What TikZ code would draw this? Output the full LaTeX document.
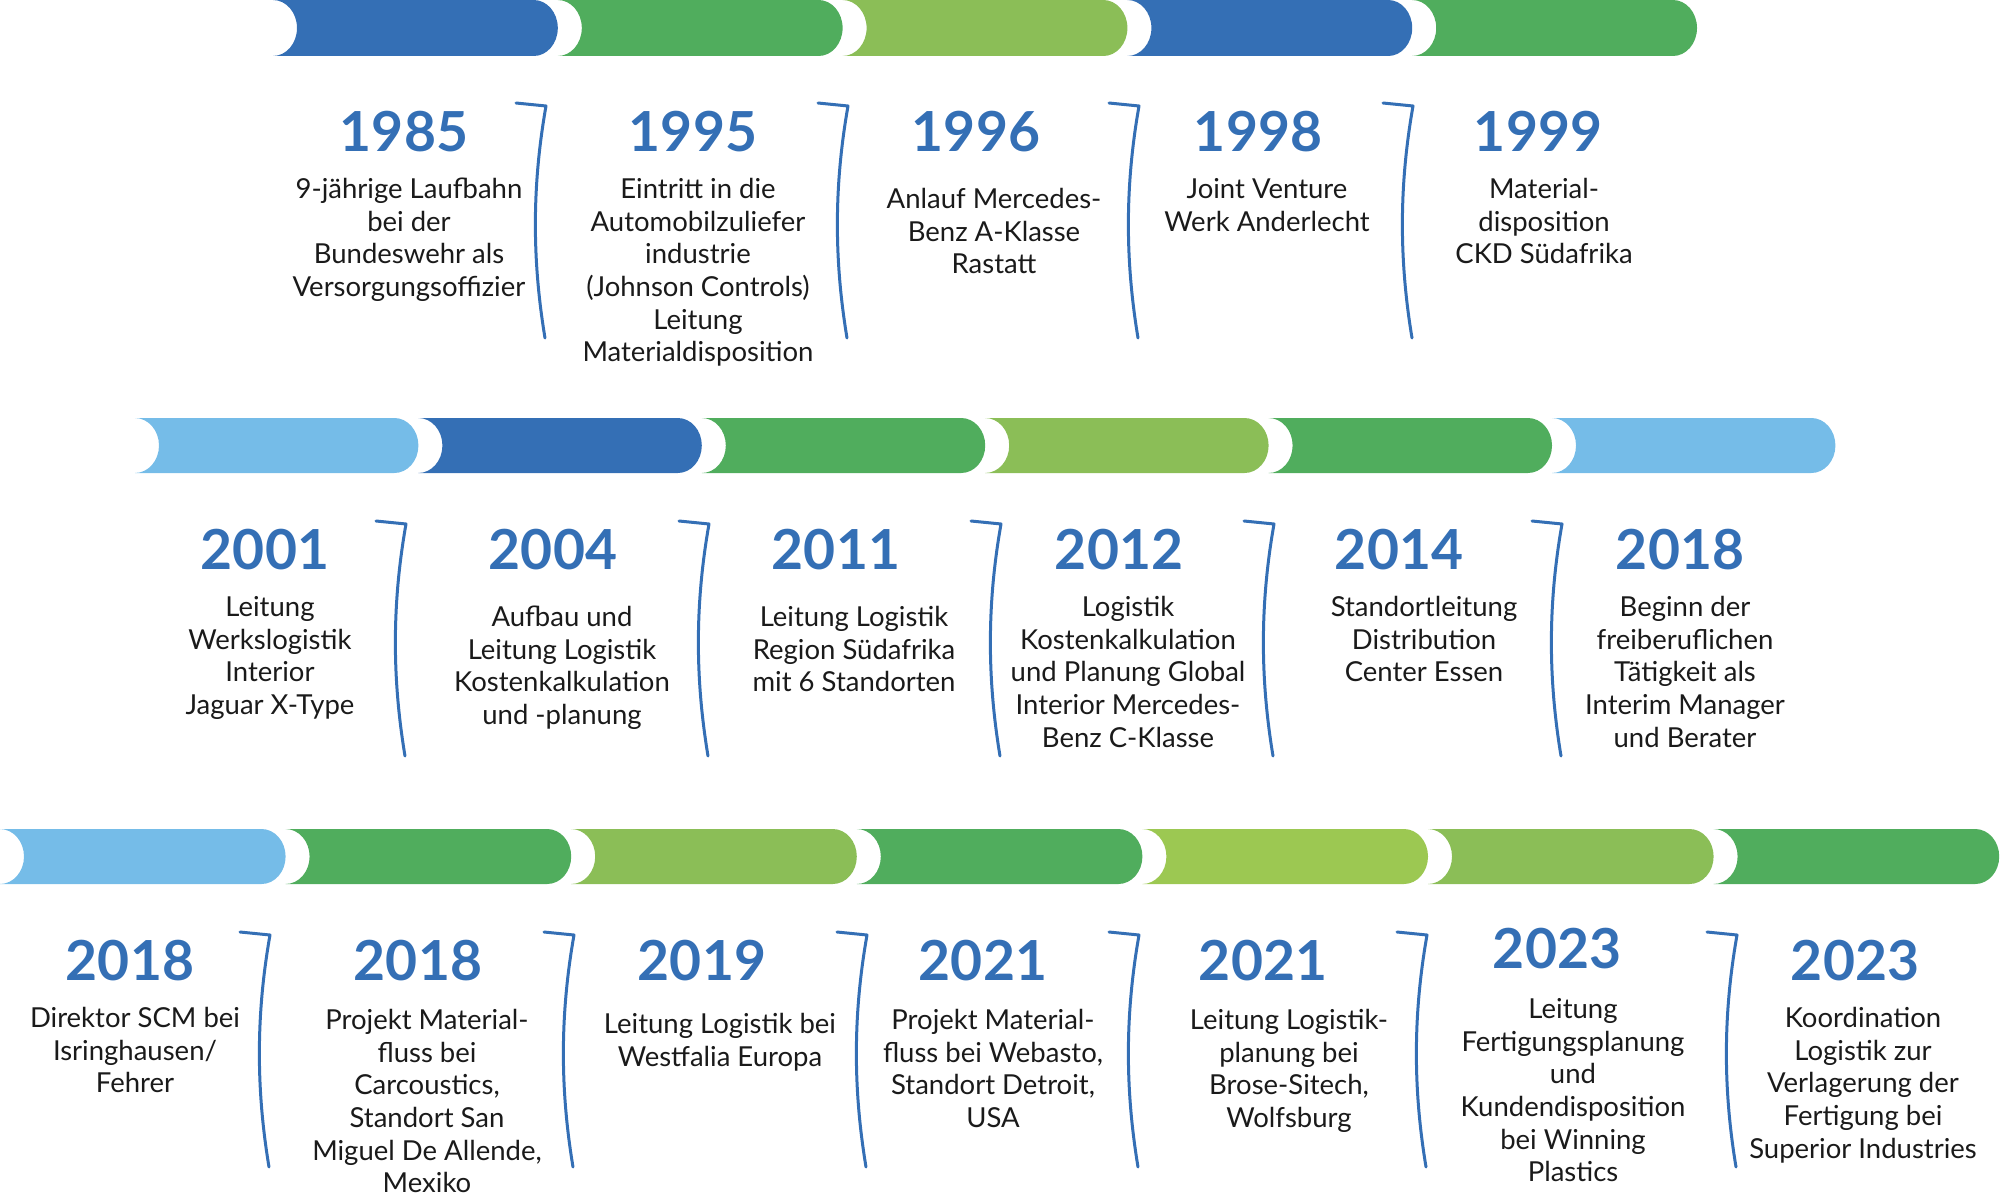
\documentclass[tikz,border=0pt]{standalone}
\usepackage{fontspec}
\setmainfont{Lato}
\definecolor{cblue}{HTML}{346FB5}
\definecolor{cgreen}{HTML}{50AD5D}
\definecolor{clgreen}{HTML}{8BBE57}
\definecolor{cygreen}{HTML}{9CC852}
\definecolor{clblue}{HTML}{75BCE8}
\definecolor{ctext}{HTML}{1A1A1A}
\newcommand\tlbar[5]{% x0, top, period, height, colour
  \pgfmathsetmacro\bxz{#1}
  \pgfmathsetmacro\bxa{#1+#3-24}
  \pgfmathsetmacro\bxb{#1+#3}
  \pgfmathsetmacro\bxk{\bxa+13.25}
  \pgfmathsetmacro\bxl{#1+24}
  \pgfmathsetmacro\bxlk{#1+13.25}
  \pgfmathsetmacro\bym{#2+#4/2}
  \pgfmathsetmacro\byb{#2+#4}
  \pgfmathsetmacro\byu{\bym-0.5523*#4/2}
  \pgfmathsetmacro\byd{\bym+0.5523*#4/2}
  \fill[#5] (\bxz,#2) -- (\bxa,#2) .. controls (\bxk,#2) and (\bxb,\byu) .. (\bxb,\bym)
    .. controls (\bxb,\byd) and (\bxk,\byb) .. (\bxa,\byb) -- (\bxz,\byb)
    .. controls (\bxlk,\byb) and (\bxl,\byd) .. (\bxl,\bym)
    .. controls (\bxl,\byu) and (\bxlk,#2) .. (\bxz,#2) -- cycle;
}
\newcommand\tlbrk[2]{% corner x, top y
  \draw[brk] (#1-30,#2-2) -- (#1,#2+1) .. controls (#1-14,#2+80) and (#1-14,#2+155) .. (#1-1,#2+233);
}
\newcommand\fl{\rule{0pt}{12pt}}
\tikzset{
  yr/.style={anchor=base, inner sep=0pt, text=cblue, font=\fontsize{27.6}{29}\selectfont\bfseries},
  txt/.style={anchor=north, inner sep=0pt, align=center, text=ctext, font=\fontsize{13.75}{16.35}\selectfont},
  brk/.style={draw=cblue, line width=1.5pt, line cap=round, line join=round}
}
\begin{document}
\begin{tikzpicture}[x=0.5pt,y=-0.5pt]
\useasboundingbox (0,0) rectangle (2000,1193);
% bars
\foreach \c [count=\i from 0] in {cblue,cgreen,clgreen,cblue,cgreen}
  {\tlbar{273+\i*284.8}{0}{284.8}{56}{\c}}
\foreach \c [count=\i from 0] in {clblue,cblue,cgreen,clgreen,cgreen,clblue}
  {\tlbar{135+\i*283.4}{418}{283.4}{55}{\c}}
\foreach \c [count=\i from 0] in {clblue,cgreen,clgreen,cgreen,cygreen,clgreen,cgreen}
  {\tlbar{0+\i*285.6}{829}{285.6}{55}{\c}}
% brackets
\foreach \x in {546,848,1139,1413} {\tlbrk{\x}{105}}
\foreach \x in {406,709,1001,1274,1562} {\tlbrk{\x}{523}}
\foreach \x in {270,574,867,1139,1427,1737} {\tlbrk{\x}{934}}
% row 1
\node[yr] (y1) at (404,151) {1985};
\node[txt] (t1) at (409,174) {\fl 9-jährige Laufbahn\\bei der\\Bundeswehr als\\Versorgungsoffizier};
\node[yr] (y2) at (693,151) {1995};
\node[txt] (t2) at (698,174) {\fl Eintritt in die\\Automobilzuliefer\\industrie\\(Johnson Controls)\\Leitung\\Materialdisposition};
\node[yr] (y3) at (976,151) {1996};
\node[txt] (t3) at (994,184) {\fl Anlauf Mercedes-\\Benz A-Klasse\\Rastatt};
\node[yr] (y4) at (1258,151) {1998};
\node[txt] (t4) at (1267,174) {\fl Joint Venture\\Werk Anderlecht};
\node[yr] (y5) at (1538,151) {1999};
\node[txt] (t5) at (1544,174) {\fl Material-\\disposition\\CKD Südafrika};
% row 2
\node[yr] (y6) at (265,569) {2001};
\node[txt] (t6) at (270,592) {\fl Leitung\\Werkslogistik\\Interior\\Jaguar X-Type};
\node[yr] (y7) at (553,569) {2004};
\node[txt] (t7) at (562,602) {\fl Aufbau und\\Leitung Logistik\\Kostenkalkulation\\und -planung};
\node[yr] (y8) at (836,569) {2011};
\node[txt] (t8) at (854,602) {\fl Leitung Logistik\\Region Südafrika\\mit 6 Standorten};
\node[yr] (y9) at (1119,569) {2012};
\node[txt] (t9) at (1128,592) {\fl Logistik\\Kostenkalkulation\\und Planung Global\\Interior Mercedes-\\Benz C-Klasse};
\node[yr] (y10) at (1399,569) {2014};
\node[txt] (t10) at (1424,592) {\fl Standortleitung\\Distribution\\Center Essen};
\node[yr] (y11) at (1680,569) {2018};
\node[txt] (t11) at (1685,592) {\fl Beginn der\\freiberuflichen\\Tätigkeit als\\Interim Manager\\und Berater};
% row 3
\node[yr] (y12) at (130,980) {2018};
\node[txt] (t12) at (135,1003) {\fl Direktor SCM bei\\Isringhausen/\\Fehrer};
\node[yr] (y13) at (418,980) {2018};
\node[txt] (t13) at (427,1005) {\fl Projekt Material-\\fluss bei\\Carcoustics,\\Standort San\\Miguel De Allende,\\Mexiko};
\node[yr] (y14) at (702,980) {2019};
\node[txt] (t14) at (720,1009) {\fl Leitung Logistik bei\\Westfalia Europa};
\node[yr] (y15) at (983,980) {2021};
\node[txt] (t15) at (993,1005) {\fl Projekt Material-\\fluss bei Webasto,\\Standort Detroit,\\USA};
\node[yr] (y16) at (1263,980) {2021};
\node[txt] (t16) at (1289,1005) {\fl Leitung Logistik-\\planung bei\\Brose-Sitech,\\Wolfsburg};
\node[yr] (y17) at (1557,968) {2023};
\node[txt] (t17) at (1573,994) {\fl Leitung\\Fertigungsplanung\\und\\Kundendisposition\\bei Winning\\Plastics};
\node[yr] (y18) at (1855,980) {2023};
\node[txt] (t18) at (1863,1003) {\fl Koordination\\Logistik zur\\Verlagerung der\\Fertigung bei\\Superior Industries};
\end{tikzpicture}
\end{document}
